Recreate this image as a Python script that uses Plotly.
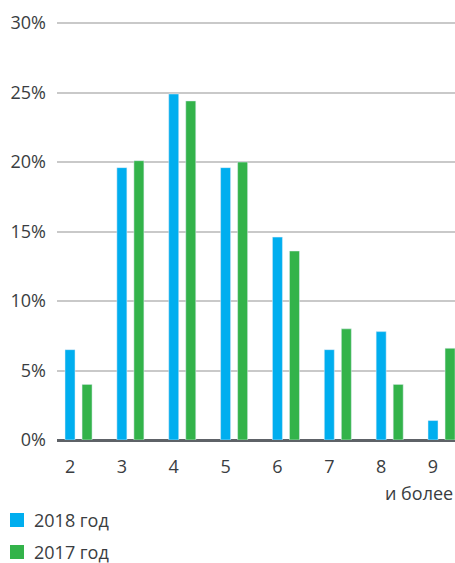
import plotly.graph_objects as go

# Share of households by number of members
categories = [2, 3, 4, 5, 6, 7, 8, 9]
category_labels = ["2", "3", "4", "5", "6", "7", "8", "9"]
last_label_note = "и более"
share_2018 = [6.5, 19.6, 24.9, 19.6, 14.6, 6.5, 7.8, 1.4]
share_2017 = [4.0, 20.1, 24.4, 20.0, 13.6, 8.0, 4.0, 6.6]
series_names = ["2018 год", "2017 год"]
y_ticks = [0, 5, 10, 15, 20, 25, 30]
y_tick_labels = ["0%", "5%", "10%", "15%", "20%", "25%", "30%"]

BLUE = "#00AEEF"
GREEN = "#33B34A"
TEXT = "#3a3d41"
FONT = "Open Sans"

x_range = [1.749, 9.424]
bar_w = 0.193
fig = go.Figure()
fig.add_trace(go.Bar(x=categories, y=share_2018, name=series_names[0],
                     marker_color=BLUE, width=bar_w, offset=-bar_w / 2))
fig.add_trace(go.Bar(x=categories, y=share_2017, name=series_names[1],
                     marker_color=GREEN, width=bar_w, offset=0.232))

# small open circles at the start of each gridline
fig.add_trace(go.Scatter(x=[x_range[0] - 0.058] * len(y_ticks), y=y_ticks,
                         mode="markers", cliponaxis=False, hoverinfo="skip",
                         marker=dict(symbol="circle", size=4, color="white",
                                     line=dict(color="#b5b5b5", width=1))))

shapes = []
annotations = []
# legend swatches and labels
colors = [BLUE, GREEN]
for i, (name, c) in enumerate(zip(series_names, colors)):
    off = -80 - 32 * i
    shapes.append(dict(type="rect", xref="paper", yref="paper",
                       xsizemode="pixel", ysizemode="pixel",
                       xanchor=0, yanchor=0, x0=-47, x1=-33,
                       y0=off - 7, y1=off + 7,
                       line=dict(width=0), fillcolor=c))
    annotations.append(dict(text=name, xref="paper", yref="paper", x=0, y=0,
                            xanchor="left", yanchor="middle", xshift=-25,
                            yshift=off, showarrow=False,
                            font=dict(size=18, color=TEXT, family=FONT)))

annotations.append(dict(text=last_label_note, xref="paper", yref="paper",
                        x=1, y=0, xanchor="right", yanchor="middle",
                        yshift=-53, showarrow=False,
                        font=dict(size=18, color=TEXT, family=FONT)))

fig.update_layout(
    width=455, height=563,
    margin=dict(l=57, r=0, t=22, b=123),
    plot_bgcolor="white", paper_bgcolor="white",
    showlegend=False,
    font=dict(family=FONT, size=18, color=TEXT),
    shapes=shapes, annotations=annotations,
    xaxis=dict(range=x_range, tickvals=categories, ticktext=category_labels,
               showgrid=False, zeroline=False, showline=False, ticks="",
               ticklabelstandoff=14,
               tickfont=dict(size=18, color=TEXT)),
    yaxis=dict(range=[0, 30.08], tickvals=y_ticks, ticktext=y_tick_labels,
               showgrid=True, gridcolor="#c9c9c9", gridwidth=1.5,
               zeroline=True, zerolinecolor="#5e6267", zerolinewidth=2.5,
               ticks="", ticklabelstandoff=10,
               tickfont=dict(size=18, color=TEXT)),
)

fig.write_html("out.html")
